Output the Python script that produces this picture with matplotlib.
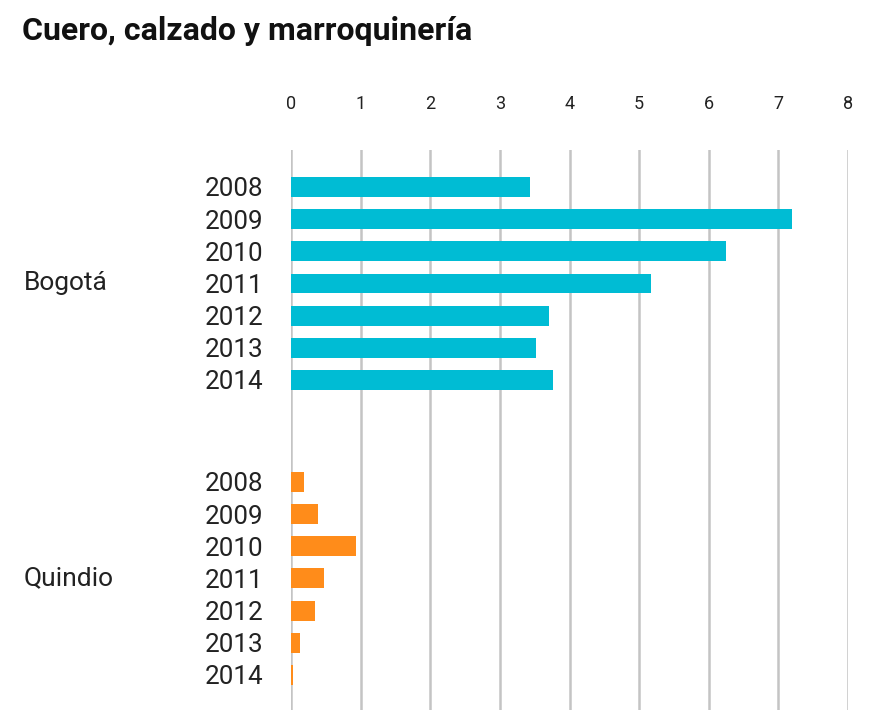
import matplotlib
matplotlib.use("Agg")
import matplotlib.pyplot as plt
import matplotlib.transforms as mtransforms
import numpy as np

plt.rcParams['font.family'] = ['Roboto', 'DejaVu Sans']

title = "Cuero, calzado y marroquinería"
groups = ["Bogotá", "Quindio"]
years = ["2008", "2009", "2010", "2011", "2012", "2013", "2014"]
bogota = [3.43, 7.20, 6.25, 5.17, 3.70, 3.52, 3.76]
quindio = [0.19, 0.39, 0.93, 0.48, 0.35, 0.13, 0.03]
colors = ["#00BCD4", "#FF8C1A"]
xticks = [0, 1, 2, 3, 4, 5, 6, 7, 8]

W, H = 876, 715
fig = plt.figure(figsize=(W / 100, H / 100), dpi=100)
ax = fig.add_axes([291 / W, 1 - 710 / H, (848 - 291) / W, (710 - 150) / H])

gap_start = 9.17
pos_b = np.arange(len(years))
pos_q = np.arange(len(years)) + gap_start
ax.barh(pos_b, bogota, height=0.62, color=colors[0], zorder=3)
ax.barh(pos_q, quindio, height=0.62, color=colors[1], zorder=3)

ax.set_xlim(0, 8)
ax.set_ylim(pos_q[-1] + 1.09, -1.15)
ax.set_xticks(xticks)
ax.set_xticklabels([str(t) for t in xticks], fontsize=13, color="#222222")
ax.xaxis.tick_top()
ax.tick_params(axis='x', length=0, pad=26.5)
ax.set_yticks(list(pos_b) + list(pos_q))
ax.set_yticklabels(years + years, fontsize=18.7, color="#222222")
ax.tick_params(axis='y', length=0, pad=20)
for s in ax.spines.values():
    s.set_visible(False)
ax.grid(axis='x', color="#C4C4C4", linewidth=1.8, zorder=0)
ax.grid(axis='y', visible=False)

# group labels
trans = mtransforms.blended_transform_factory(fig.transFigure, ax.transData)
for g, pos in zip(groups, [pos_b, pos_q]):
    ax.text(24 / W, np.mean(pos), g, transform=trans,
            fontsize=19, color="#222222", va='center', ha='left')

fig.text(22 / W, 1 - 31 / H, title, fontsize=23, fontweight='bold', color="#111111",
         va='center', ha='left')

fig.savefig("out.png", dpi=100, facecolor="white")
